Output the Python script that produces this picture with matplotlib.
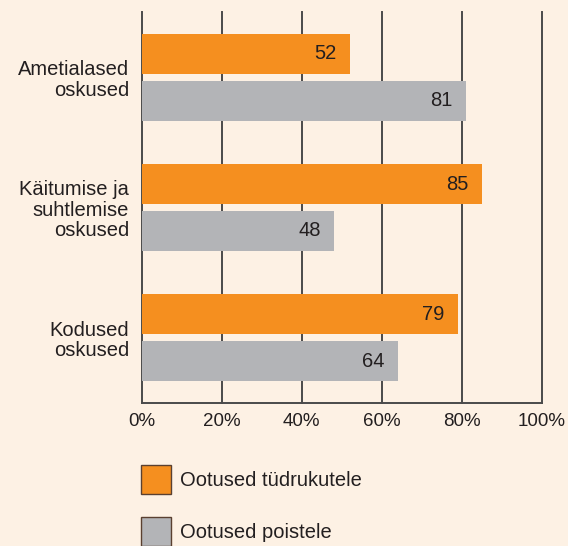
import matplotlib
matplotlib.use("Agg")
import matplotlib.pyplot as plt
from matplotlib.patches import Rectangle

categories = ["Ametialased\noskused", "Käitumise ja\nsuhtlemise\noskused", "Kodused\noskused"]
girls = [52, 85, 79]
boys = [81, 48, 64]
series_names = ["Ootused tüdrukutele", "Ootused poistele"]
xticks = [0, 20, 40, 60, 80, 100]
xtick_labels = ["0%", "20%", "40%", "60%", "80%", "100%"]

BG = "#FDF1E4"
ORANGE = "#F58F1F"
GRAY = "#B3B4B7"
LINE = "#4A4A4A"
TEXT = "#231F20"

plt.rcParams['font.family'] = ['Liberation Sans', 'DejaVu Sans']

fig = plt.figure(figsize=(5.68, 5.46), dpi=100, facecolor=BG)
ax = fig.add_axes([141.5/568, 1-403/546, 400.5/568, 391/546])
ax.set_facecolor(BG)

h = 40/130.5
off = 23.5/130.5
ypos = list(range(len(categories)))
yg = [y - off for y in ypos]
yb = [y + off for y in ypos]

for x in xticks:
    ax.axvline(x, color=LINE, lw=1.4, zorder=1, clip_on=False)

bg = ax.barh(yg, girls, height=h, color=ORANGE, zorder=2)
bb = ax.barh(yb, boys, height=h, color=GRAY, zorder=2)

for bars, vals in ((bg, girls), (bb, boys)):
    for b, v in zip(bars, vals):
        ax.annotate(str(v), (b.get_width(), b.get_y() + b.get_height()/2),
                    xytext=(-9.5, 0), textcoords="offset points",
                    ha="right", va="center", fontsize=14.5, color=TEXT, zorder=3)

ax.set_xlim(0, 100)
ax.set_ylim(2.5, -0.5)
ax.set_xticks(xticks)
ax.set_xticklabels(xtick_labels, fontsize=13.5, color=TEXT)
ax.set_yticks(ypos)
ax.set_yticklabels(categories, fontsize=14.5, color=TEXT, ha="right", linespacing=1.1)
ax.tick_params(axis="both", length=0)
ax.tick_params(axis="x", pad=7)
ax.tick_params(axis="y", pad=9)
for s in ("top", "right", "left"):
    ax.spines[s].set_visible(False)
ax.spines["bottom"].set_color(LINE)
ax.spines["bottom"].set_linewidth(1.4)

# legend
for i, (name, col) in enumerate(zip(series_names, [ORANGE, GRAY])):
    y0 = 465 + i * 52
    fig.patches.append(Rectangle((141/568, 1 - (y0 + 29)/546), 30/568, 29/546,
                                 transform=fig.transFigure, facecolor=col,
                                 edgecolor="#5a4030", lw=1.0))
    fig.text(180/568, 1 - (y0 + 15)/546, name, fontsize=14.5, color=TEXT,
             ha="left", va="center")

fig.savefig("out.png", dpi=100, facecolor=BG)
